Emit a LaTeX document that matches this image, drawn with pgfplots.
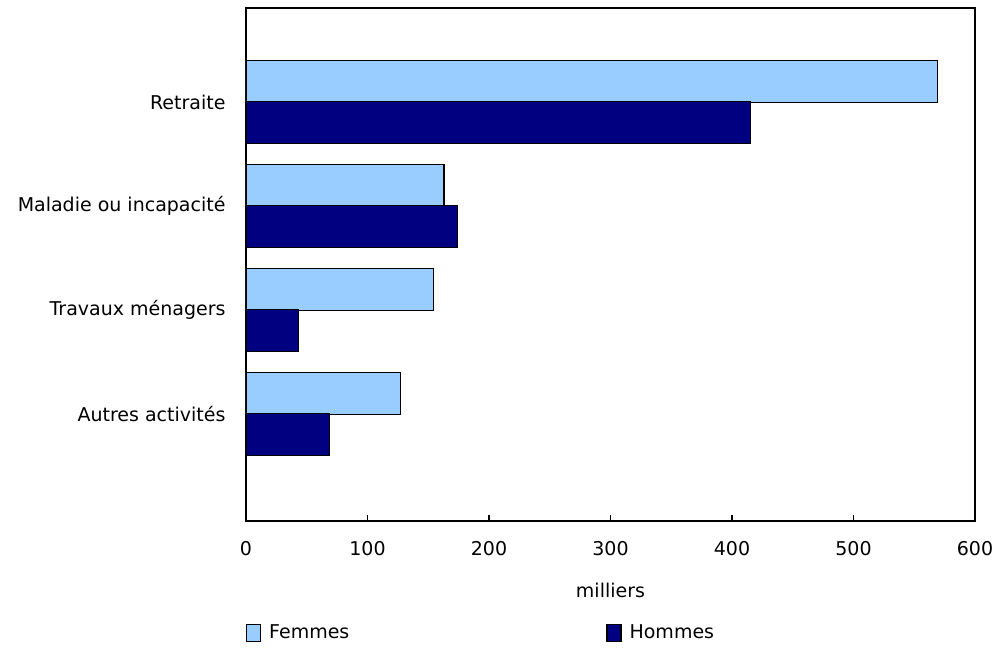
\documentclass[border=0pt]{standalone}
\usepackage{pgfplots}
\pgfplotsset{compat=1.18}
\usepackage{fontspec}
\setmainfont{DejaVu Sans}
\definecolor{femmes}{HTML}{99CCFF}
\definecolor{hommes}{HTML}{000080}
\begin{document}
\fontsize{19pt}{22pt}\selectfont
\begin{tikzpicture}
\useasboundingbox (-246pt,-128pt) rectangle (749pt,521pt);
\begin{axis}[
    at={(0pt,0pt)}, anchor=south west,
    scale only axis,
    width=729pt, height=513pt,
    xbar, bar shift=0pt, bar width=42pt,
    xmin=0, xmax=600,
    ymin=-0.904, ymax=4.03,
    y dir=reverse,
    xtick={0,100,...,600},
    ytick={0,1,2,3},
    yticklabels={Retraite, Maladie ou incapacité, Travaux ménagers, Autres activités},
    y tick label style={xshift=-8pt},
    ytick style={draw=none},
    xtick align=inside,
    xtick pos=bottom,
    major tick length=6pt,
    x tick style={line width=1.2pt, black},
    x tick label style={yshift=-14pt},
    /pgf/number format/assume math mode=true,
    xlabel={milliers},
    xlabel style={yshift=-14pt},
    axis line style={line width=1.2pt},
    legend style={at={(0,-0.218)}, anchor=west, draw=none, fill=none,
        legend columns=2, /tikz/every even column/.append style={column sep=255pt},
        inner sep=0pt, outer sep=0pt},
    legend cell align=left,
    legend image code/.code={\draw[#1, line width=1.2pt] (0pt,-8.5pt) rectangle (14pt,8.5pt);
        \path (20pt,0pt);},
]
\addplot[fill=femmes, draw=black, line width=1.2pt] coordinates {
    (569,-0.2) (163,0.8) (154,1.8) (127,2.8)
};
\addplot[fill=hommes, draw=black, line width=1.2pt] coordinates {
    (415,0.2) (174,1.2) (43,2.2) (69,3.2)
};
\legend{Femmes, Hommes}
\end{axis}
\end{tikzpicture}
\end{document}
